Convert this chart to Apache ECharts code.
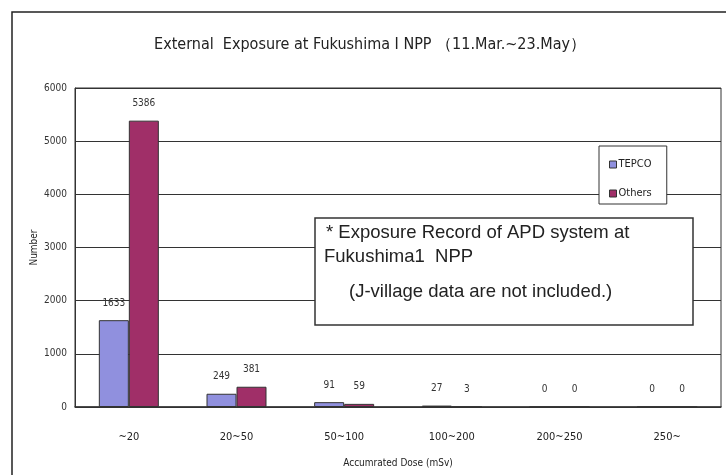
<!DOCTYPE html>
<html><head><meta charset="utf-8">
<script src="https://cdn.jsdelivr.net/npm/echarts@6/dist/echarts.min.js"></script>
<style>html,body{margin:0;padding:0;background:#fff}#c{width:726px;height:475px}</style>
</head><body><div id="c"></div>
<script>
const categories = ['~20', '20~50', '50~100', '100~200', '200~250', '250~'];
const tepco = [1633, 249, 91, 27, 0, 0];
const others = [5386, 381, 59, 3, 0, 0];
const yTicks = [0, 1000, 2000, 3000, 4000, 5000, 6000];
const seriesNames = ['TEPCO', 'Others'];
const titleText = 'External  Exposure at Fukushima I NPP （11.Mar.~23.May）';
const noteLines = ['* Exposure Record of APD system at', 'Fukushima1  NPP', '(J-village data are not included.)'];

const NARROW = '"Liberation Sans Narrow", "DejaVu Sans Condensed", "Liberation Sans", sans-serif';
const NOTE_FONT = '18.5px "Liberation Sans", Arial, sans-serif';
const chart = echarts.init(document.getElementById('c'));
chart.setOption({
  animation: false,
  backgroundColor: '#fff',
  title: {
    text: titleText, left: 365, top: 32, textAlign: 'center',
    textStyle: { fontFamily: NARROW, fontSize: 16, fontWeight: 'normal', color: '#222' }
  },
  legend: {
    orient: 'vertical', left: 599, top: 146,
    data: seriesNames, icon: 'rect', itemWidth: 7, itemHeight: 7, itemGap: 18,
    padding: [13, 15, 5, 10], borderColor: '#333', borderWidth: 1, backgroundColor: '#fff',
    textStyle: { fontFamily: NARROW, fontSize: 11, color: '#222', padding: [0, 0, 0, -3] },
    itemStyle: { borderColor: '#333', borderWidth: 1 }
  },
  grid: { left: 75, top: 88, right: 5, bottom: 68, show: true, borderColor: '#333', borderWidth: 1 },
  xAxis: {
    type: 'category', data: categories,
    name: 'Accumrated Dose (mSv)', nameLocation: 'middle', nameGap: 51,
    nameTextStyle: { fontFamily: NARROW, fontSize: 10, color: '#222' },
    axisLine: { lineStyle: { color: '#333', width: 1.5 } },
    axisTick: { inside: true, length: 4, lineStyle: { color: '#333' } },
    axisLabel: { fontFamily: NARROW, fontSize: 11, color: '#222', margin: 25 }
  },
  yAxis: {
    type: 'value', min: yTicks[0], max: yTicks[yTicks.length - 1], interval: 1000,
    name: 'Number', nameLocation: 'middle', nameGap: 36, nameMoveOverlap: false,
    nameTextStyle: { fontFamily: NARROW, fontSize: 10, color: '#222' },
    axisLine: { show: true, lineStyle: { color: '#333' } },
    axisTick: { show: false },
    splitLine: { lineStyle: { color: '#333', width: 1 } },
    axisLabel: { fontFamily: NARROW, fontSize: 10, color: '#333', margin: 8, formatter: v => String(v) }
  },
  series: [
    {
      name: seriesNames[0], type: 'bar', data: tepco, barWidth: 30, barGap: '0%',
      itemStyle: { color: '#9090DE', borderColor: '#333', borderWidth: 1 },
      label: { show: true, position: 'top', distance: 12, fontFamily: NARROW, fontSize: 10, color: '#333' }
    },
    {
      name: seriesNames[1], type: 'bar', data: others, barWidth: 30, barGap: '0%',
      itemStyle: { color: '#A02F68', borderColor: '#333', borderWidth: 1 },
      label: { show: true, position: 'top', distance: 12, fontFamily: NARROW, fontSize: 10, color: '#333' }
    }
  ],
  graphic: [
    { type: 'rect', z: -10, silent: true,
      shape: { x: 12, y: 12, width: 760, height: 500 }, style: { fill: 'none', stroke: '#222', lineWidth: 1.5 } },
    { type: 'rect', z: 100,
      shape: { x: 315, y: 218, width: 378, height: 107 }, style: { fill: '#fff', stroke: '#333', lineWidth: 1.5 } },
    { type: 'text', z: 101, x: 326, y: 233,
      style: { text: noteLines[0], font: NOTE_FONT, fill: '#222', verticalAlign: 'middle' } },
    { type: 'text', z: 101, x: 324, y: 257,
      style: { text: noteLines[1], font: NOTE_FONT, fill: '#222', verticalAlign: 'middle' } },
    { type: 'text', z: 101, x: 349, y: 292,
      style: { text: noteLines[2], font: NOTE_FONT, fill: '#222', verticalAlign: 'middle' } }
  ]
});
</script></body></html>
